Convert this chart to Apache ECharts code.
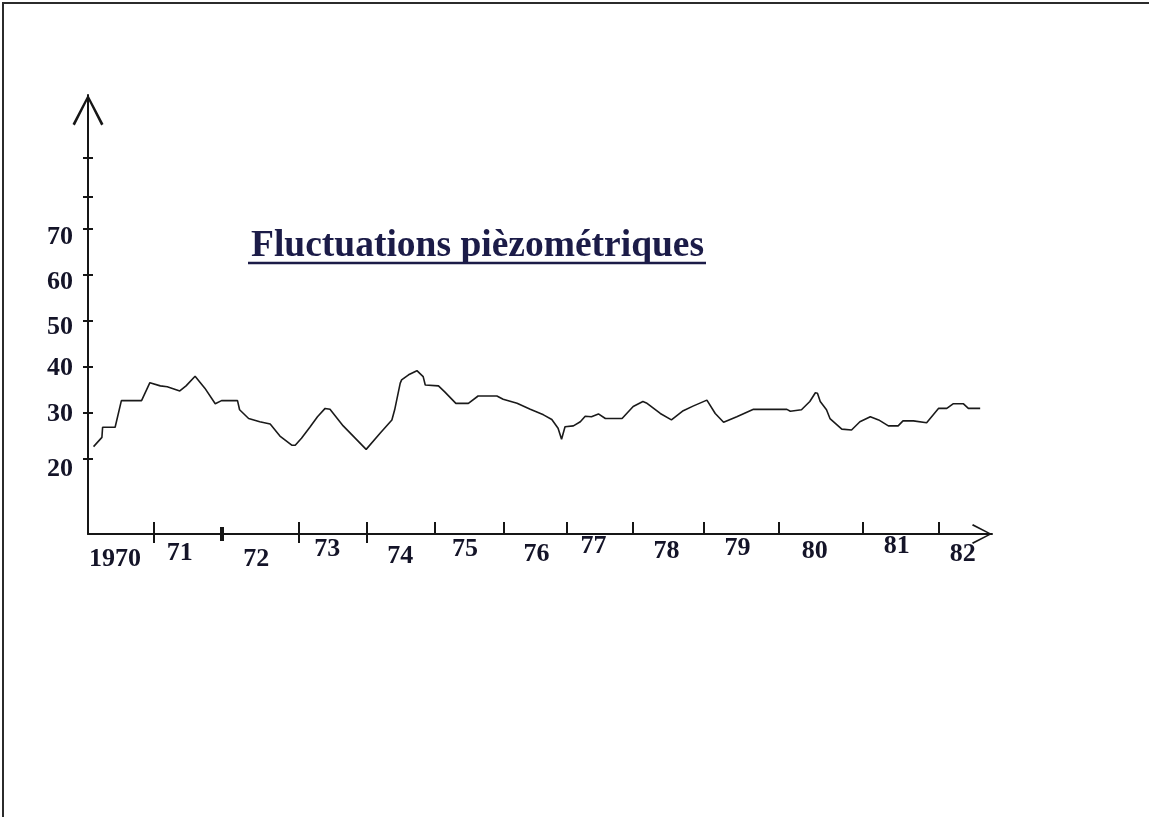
<!DOCTYPE html>
<html>
<head>
<meta charset="utf-8">
<title>Fluctuations pièzométriques</title>
<script src="https://cdn.jsdelivr.net/npm/echarts@6/dist/echarts.min.js"></script>
<style>
  html, body { margin: 0; padding: 0; background: #fff; }
  #chart { position: absolute; left: 0; top: 0; width: 1149px; height: 817px; }
  #frame { position: absolute; left: 2px; top: 2px; width: 1147px; height: 815px;
           border-left: 2px solid #2b2b2b; border-top: 2px solid #2b2b2b;
           box-sizing: border-box; pointer-events: none; }
</style>
</head>
<body>
<div id="chart"></div>
<div id="frame"></div>
<script>
// Piezometric level record, 1970 - 1982 (time in decimal years, level in the axis units)
const years = [
  1970.08, 1970.20, 1970.21, 1970.39, 1970.48, 1970.77, 1970.89, 1971.04, 1971.14, 1971.32,
  1971.41, 1971.54, 1971.68, 1971.83, 1971.92, 1972.15, 1972.18, 1972.31, 1972.47, 1972.62,
  1972.76, 1972.93, 1972.98, 1973.07, 1973.19, 1973.30, 1973.41, 1973.48, 1973.67, 1974.00, 1974.20,
  1974.37, 1974.41, 1974.49, 1974.51, 1974.61, 1974.73, 1974.82, 1974.85, 1975.04, 1975.13,
  1975.29, 1975.47, 1975.61, 1975.88, 1975.97, 1976.17, 1976.36, 1976.55, 1976.67, 1976.76,
  1976.81, 1976.86, 1976.98, 1977.08, 1977.15, 1977.24, 1977.34, 1977.44, 1977.68, 1977.84, 1977.98, 1978.03, 1978.23,
  1978.39, 1978.56, 1978.70, 1978.90, 1979.02, 1979.14, 1979.33, 1979.57, 1980.05, 1980.10,
  1980.26, 1980.38, 1980.46, 1980.49, 1980.53, 1980.62, 1980.67, 1980.84, 1980.98, 1981.10,
  1981.25, 1981.37, 1981.51, 1981.65, 1981.72, 1981.87, 1982.06, 1982.23, 1982.35, 1982.44, 1982.59, 1982.66, 1982.83
];
const levels = [
  22.7, 24.7, 26.9, 26.9, 32.7, 32.7, 36.6, 35.9, 35.7, 34.8,
  35.9, 38.0, 35.4, 32.0, 32.7, 32.7, 30.7, 28.8, 28.1, 27.6,
  25.0, 23.0, 23.0, 24.5, 26.9, 29.2, 31.0, 30.8, 27.2, 22.1, 25.6,
  28.5, 30.7, 36.5, 37.2, 38.3, 39.2, 37.9, 36.1, 35.9, 34.6,
  32.1, 32.1, 33.7, 33.7, 33.0, 32.1, 30.8, 29.6, 28.6, 26.7,
  24.3, 27.0, 27.2, 28.1, 29.3, 29.2, 29.8, 28.8, 28.8, 31.4, 32.5, 32.2, 29.9,
  28.5, 30.5, 31.5, 32.8, 29.9, 28.0, 29.2, 30.8, 30.8, 30.4,
  30.7, 32.5, 34.4, 34.3, 32.5, 30.7, 28.8, 26.5, 26.3, 28.1,
  29.2, 28.5, 27.2, 27.2, 28.3, 28.3, 27.9, 31.0, 31.0, 32.0, 32.0, 31.0, 31.0
];

// Year labels on the time axis and where each one sits
const yearLabels  = ['1970', '71', '72', '73', '74', '75', '76', '77', '78', '79', '80', '81', '82'];
const yearLabelAt = [1970.39, 1971.32, 1972.42, 1973.44, 1974.49, 1975.42, 1976.45, 1977.27,
                     1978.32, 1979.34, 1980.45, 1981.63, 1982.58];
// Year boundary marks on the time axis
const yearTicks      = [1970.95, 1973.03, 1974.01, 1974.98, 1975.98, 1976.88, 1977.83, 1978.86,
                        1979.93, 1981.14, 1982.24];
const yearTicksBelow = [1970.95, 1973.03, 1974.01];
const yearMarkBold   = [1971.93];

// Level axis
const levelLabels = [20, 30, 40, 50, 60, 70];
const levelTicks  = [20, 30, 40, 50, 60, 70, 77, 85.4];

const titleText = 'Fluctuations pièzométriques';

// ---- layout / style ----
const INK = '#161616';
const NAVY = '#1c1c48';
const LABEL_INK = '#141428';
const SERIF = '"Liberation Serif", "Times New Roman", "DejaVu Serif", serif';
const LABEL_SIZE = 26;
// hand-lettered labels sit a little lower than their marks
const yearLabelDrop  = [13, 7, 13, 3, 10, 3, 8, 0, 5, 2, 5, 0, 8];
const levelLabelDrop = [10, 0, 0, 6, 7, 8];

function labelRich(prefix, drops, alignTop) {
  const rich = {};
  drops.forEach(function (d, i) {
    rich[prefix + i] = {
      fontFamily: SERIF, fontWeight: 'bold', fontSize: LABEL_SIZE, color: LABEL_INK,
      lineHeight: alignTop ? Math.max(2, 2 * d) : LABEL_SIZE + 2 * d
    };
  });
  return rich;
}

// open chevron arrow head, pointing up
const chevron = 'path://M20 0 L40 38 L37 40 L20 6 L3 40 L0 38 Z';

const X_MIN = 1970, X_MAX = 1983;
const Y_MIN = 3.7, Y_MAX = 99.13;

const hidden = { show: false };
function nearestIndex(arr, v) {
  let best = 0;
  for (let i = 1; i < arr.length; i++) {
    if (Math.abs(arr[i] - v) < Math.abs(arr[best] - v)) best = i;
  }
  return best;
}

const chart = echarts.init(document.getElementById('chart'), null, { renderer: 'canvas' });
chart.setOption({
  animation: false,
  backgroundColor: '#ffffff',
  title: {
    text: titleText,
    left: 246, top: 222,
    textStyle: { fontFamily: SERIF, fontWeight: 'bold', fontSize: 37.5, color: NAVY }
  },
  graphic: [{
    type: 'line',
    shape: { x1: 248, y1: 263, x2: 706, y2: 263 },
    style: { stroke: NAVY, lineWidth: 2.5 }
  }],
  grid: { left: 88, right: 157, top: 95, bottom: 283, containLabel: false, outerBoundsMode: 'none' },
  xAxis: [
    {
      type: 'value', position: 'bottom', min: X_MIN, max: X_MAX,
      axisLine: {
        show: true, onZero: false,
        lineStyle: { color: INK, width: 2 },
        symbol: ['none', chevron], symbolSize: [20, 20], symbolOffset: [0, -10]
      },
      axisTick: { show: true, inside: true, length: 12, customValues: yearTicks,
                  lineStyle: { color: INK, width: 2 } },
      axisLabel: {
        show: true, margin: -1, customValues: yearLabelAt,
        rich: labelRich('d', yearLabelDrop, false),
        formatter: function (v) {
          const i = nearestIndex(yearLabelAt, v);
          return '{d' + i + '|' + yearLabels[i] + '}';
        }
      },
      splitLine: hidden
    },
    {
      type: 'value', position: 'bottom', min: X_MIN, max: X_MAX,
      axisLine: hidden,
      axisTick: { show: true, inside: false, length: 9, customValues: yearTicksBelow,
                  lineStyle: { color: INK, width: 2 } },
      axisLabel: hidden, splitLine: hidden
    },
    {
      type: 'value', position: 'bottom', min: X_MIN, max: X_MAX, offset: -7,
      axisLine: hidden,
      axisTick: { show: true, inside: false, length: 14, customValues: yearMarkBold,
                  lineStyle: { color: INK, width: 4 } },
      axisLabel: hidden, splitLine: hidden
    }
  ],
  yAxis: [
    {
      type: 'value', position: 'left', min: Y_MIN, max: Y_MAX,
      axisLine: {
        show: true, onZero: false,
        lineStyle: { color: INK, width: 2 },
        symbol: ['none', chevron], symbolSize: [31, 31], symbolOffset: [0, -15]
      },
      axisTick: { show: true, inside: false, length: 5, customValues: levelTicks,
                  lineStyle: { color: INK, width: 2 } },
      axisLabel: {
        show: true, margin: 15, customValues: levelLabels, verticalAlign: 'top',
        rich: labelRich('v', levelLabelDrop, true),
        formatter: function (v) {
          const i = nearestIndex(levelLabels, v);
          return '{v' + i + '|' + levelLabels[i] + '}';
        }
      },
      splitLine: hidden
    },
    {
      type: 'value', position: 'left', min: Y_MIN, max: Y_MAX,
      axisLine: hidden,
      axisTick: { show: true, inside: true, length: 5, customValues: levelTicks,
                  lineStyle: { color: INK, width: 2 } },
      axisLabel: hidden, splitLine: hidden
    }
  ],
  series: [{
    type: 'line',
    xAxisIndex: 0, yAxisIndex: 0,
    data: years.map(function (t, i) { return [t, levels[i]]; }),
    showSymbol: false,
    smooth: false,
    lineStyle: { color: '#1a1a1a', width: 1.6 }
  }]
});
</script>
</body>
</html>
